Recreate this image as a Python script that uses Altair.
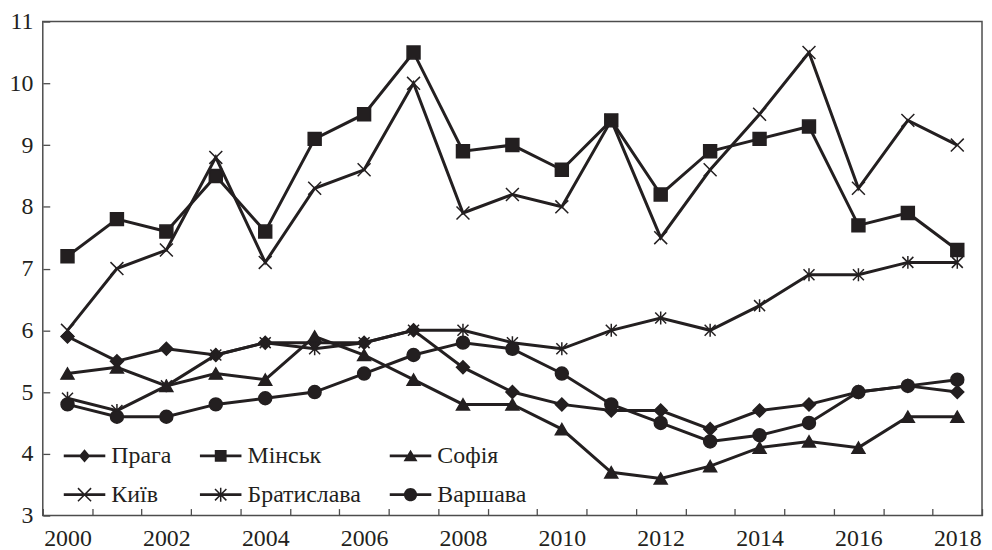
import math
import altair as alt
import pandas as pd

cities = ["Прага", "Мінськ", "Софія", "Київ", "Братислава", "Варшава"]
years = list(range(2000, 2019))
praha = [5.9, 5.5, 5.7, 5.6, 5.8, 5.8, 5.8, 6.0, 5.4, 5.0, 4.8, 4.7, 4.7, 4.4, 4.7, 4.8, 5.0, 5.1, 5.0]
minsk = [7.2, 7.8, 7.6, 8.5, 7.6, 9.1, 9.5, 10.5, 8.9, 9.0, 8.6, 9.4, 8.2, 8.9, 9.1, 9.3, 7.7, 7.9, 7.3]
sofia = [5.3, 5.4, 5.1, 5.3, 5.2, 5.9, 5.6, 5.2, 4.8, 4.8, 4.4, 3.7, 3.6, 3.8, 4.1, 4.2, 4.1, 4.6, 4.6]
kyiv = [6.0, 7.0, 7.3, 8.8, 7.1, 8.3, 8.6, 10.0, 7.9, 8.2, 8.0, 9.4, 7.5, 8.6, 9.5, 10.5, 8.3, 9.4, 9.0]
bratislava = [4.9, 4.7, 5.1, 5.6, 5.8, 5.7, 5.8, 6.0, 6.0, 5.8, 5.7, 6.0, 6.2, 6.0, 6.4, 6.9, 6.9, 7.1, 7.1]
warsaw = [4.8, 4.6, 4.6, 4.8, 4.9, 5.0, 5.3, 5.6, 5.8, 5.7, 5.3, 4.8, 4.5, 4.2, 4.3, 4.5, 5.0, 5.1, 5.2]
y_ticks = [3, 4, 5, 6, 7, 8, 9, 10, 11]

series = [praha, minsk, sofia, kyiv, bratislava, warsaw]
rows = []
for c, vals in zip(cities, series):
    for yr, v in zip(years, vals):
        rows.append({"city": c, "year": yr, "value": v})
df = pd.DataFrame(rows)

INK = "#231f20"
FRAME = "#4d4d4d"
FONT = "Liberation Serif, Times New Roman, Times, serif"
FS = 24

# plot markers
X_PATH = "M-1,-1L1,1M-1,1L1,-1"
AST_PATH = "M0,-1V1M-0.85,-0.85L0.85,0.85M-0.85,0.85L0.85,-0.85"
plot_shapes = ["diamond", "square", "triangle-up", X_PATH, AST_PATH, "circle"]


# legend symbols (fill only): thick segment polygons + marker
def seg(x1, y1, x2, y2, w):
    L = math.hypot(x2 - x1, y2 - y1)
    nx, ny = -(y2 - y1) / L * w / 2, (x2 - x1) / L * w / 2
    pts = [(x1 - nx, y1 - ny), (x2 - nx, y2 - ny), (x2 + nx, y2 + ny), (x1 + nx, y1 + ny)]
    return "M" + "L".join(f"{px:.4f},{py:.4f}" for px, py in pts) + "Z"


U = 22.0  # px per path unit (sqrt(symbolSize)/2)
BAR = seg(-0.95, 0, 0.95, 0, 2.9 / U)
THIN = 1.5 / U
legend_shape_of = {
    "Прага": BAR + "M-0.26,0L0,-0.3L0.26,0L0,0.3Z",
    "Мінськ": BAR + "M-0.27,-0.27H0.27V0.27H-0.27Z",
    "Софія": BAR + "M0,-0.28L0.32,0.24L-0.32,0.24Z",
    "Київ": BAR + seg(-0.3, -0.3, 0.3, 0.3, THIN) + seg(-0.3, 0.3, 0.3, -0.3, THIN),
    "Братислава": BAR + seg(0, -0.32, 0, 0.32, THIN)
    + seg(-0.26, -0.26, 0.26, 0.26, THIN) + seg(-0.26, 0.26, 0.26, -0.26, THIN),
    "Варшава": BAR + "M0.3,0A0.3,0.3 0 1,1 -0.3,0A0.3,0.3 0 1,1 0.3,0Z",
}
# legend fills column by column (2 rows x 3 columns)
legend_order = ["Прага", "Київ", "Мінськ", "Братислава", "Софія", "Варшава"]
legend_shapes = [legend_shape_of[c] for c in legend_order]

x_enc = alt.X(
    "year:O",
    bandPosition=0.5,
    scale=alt.Scale(type="band", paddingInner=0, paddingOuter=0),
    axis=alt.Axis(
        title=None,
        tickBand="extent",
        labelExpr="datum.value % 2 == 0 ? datum.label : ''",
        labelAngle=0,
        labelOverlap=False,
        domain=False,
        offset=-7,
        tickSize=7,
        labelPadding=11,
    ),
)
y_enc = alt.Y(
    "value:Q",
    scale=alt.Scale(domain=[3, 11], nice=False, zero=False),
    axis=alt.Axis(
        title=None,
        values=y_ticks,
        domain=False,
        grid=False,
        offset=-7,
        tickSize=7,
        labelPadding=10,
    ),
)

base = alt.Chart(df)

lines = base.mark_line(color=INK, strokeWidth=3).encode(
    x=x_enc, y=y_enc, detail="city:N"
)

points = base.mark_point(
    filled=True, fill=INK, stroke=INK, strokeWidth=1.5, opacity=1, size=169
).encode(
    x=x_enc,
    y=y_enc,
    shape=alt.Shape(
        "city:N",
        scale=alt.Scale(domain=cities, range=plot_shapes),
        legend=None,
    ),
)

legend_layer = base.transform_filter("datum.value < 0").mark_point(
    filled=True, fill=INK, opacity=1
).encode(
    x=x_enc,
    y=y_enc,
    shape=alt.Shape(
        "city:N",
        scale=alt.Scale(domain=legend_order, range=legend_shapes),
        legend=alt.Legend(
            title=None,
            orient="none",
            legendX=20,
            legendY=415,
            columns=3,
            symbolSize=(2 * U) ** 2,
            symbolStrokeWidth=0,
            symbolFillColor=INK,
            symbolOpacity=1,
            labelFont=FONT,
            labelFontSize=FS,
            labelColor=INK,
            labelOffset=5,
            labelLimit=400,
            rowPadding=5,
            columnPadding=27,
            padding=0,
        ),
    ),
)

chart = (
    alt.layer(lines, points, legend_layer)
    .resolve_scale(shape="independent")
    .properties(
        width=945,
        height=497,
        autosize=alt.AutoSizeParams(type="none"),
        padding={"left": 35, "top": 12, "right": 2, "bottom": 33},
    )
    .configure_view(stroke=FRAME, strokeWidth=1.5)
    .configure_axis(
        labelFont=FONT,
        labelFontSize=FS,
        labelColor=INK,
        tickColor=FRAME,
        tickWidth=1.3,
    )
)

chart.save("out.html", embed_options={"renderer": "svg", "actions": False})
